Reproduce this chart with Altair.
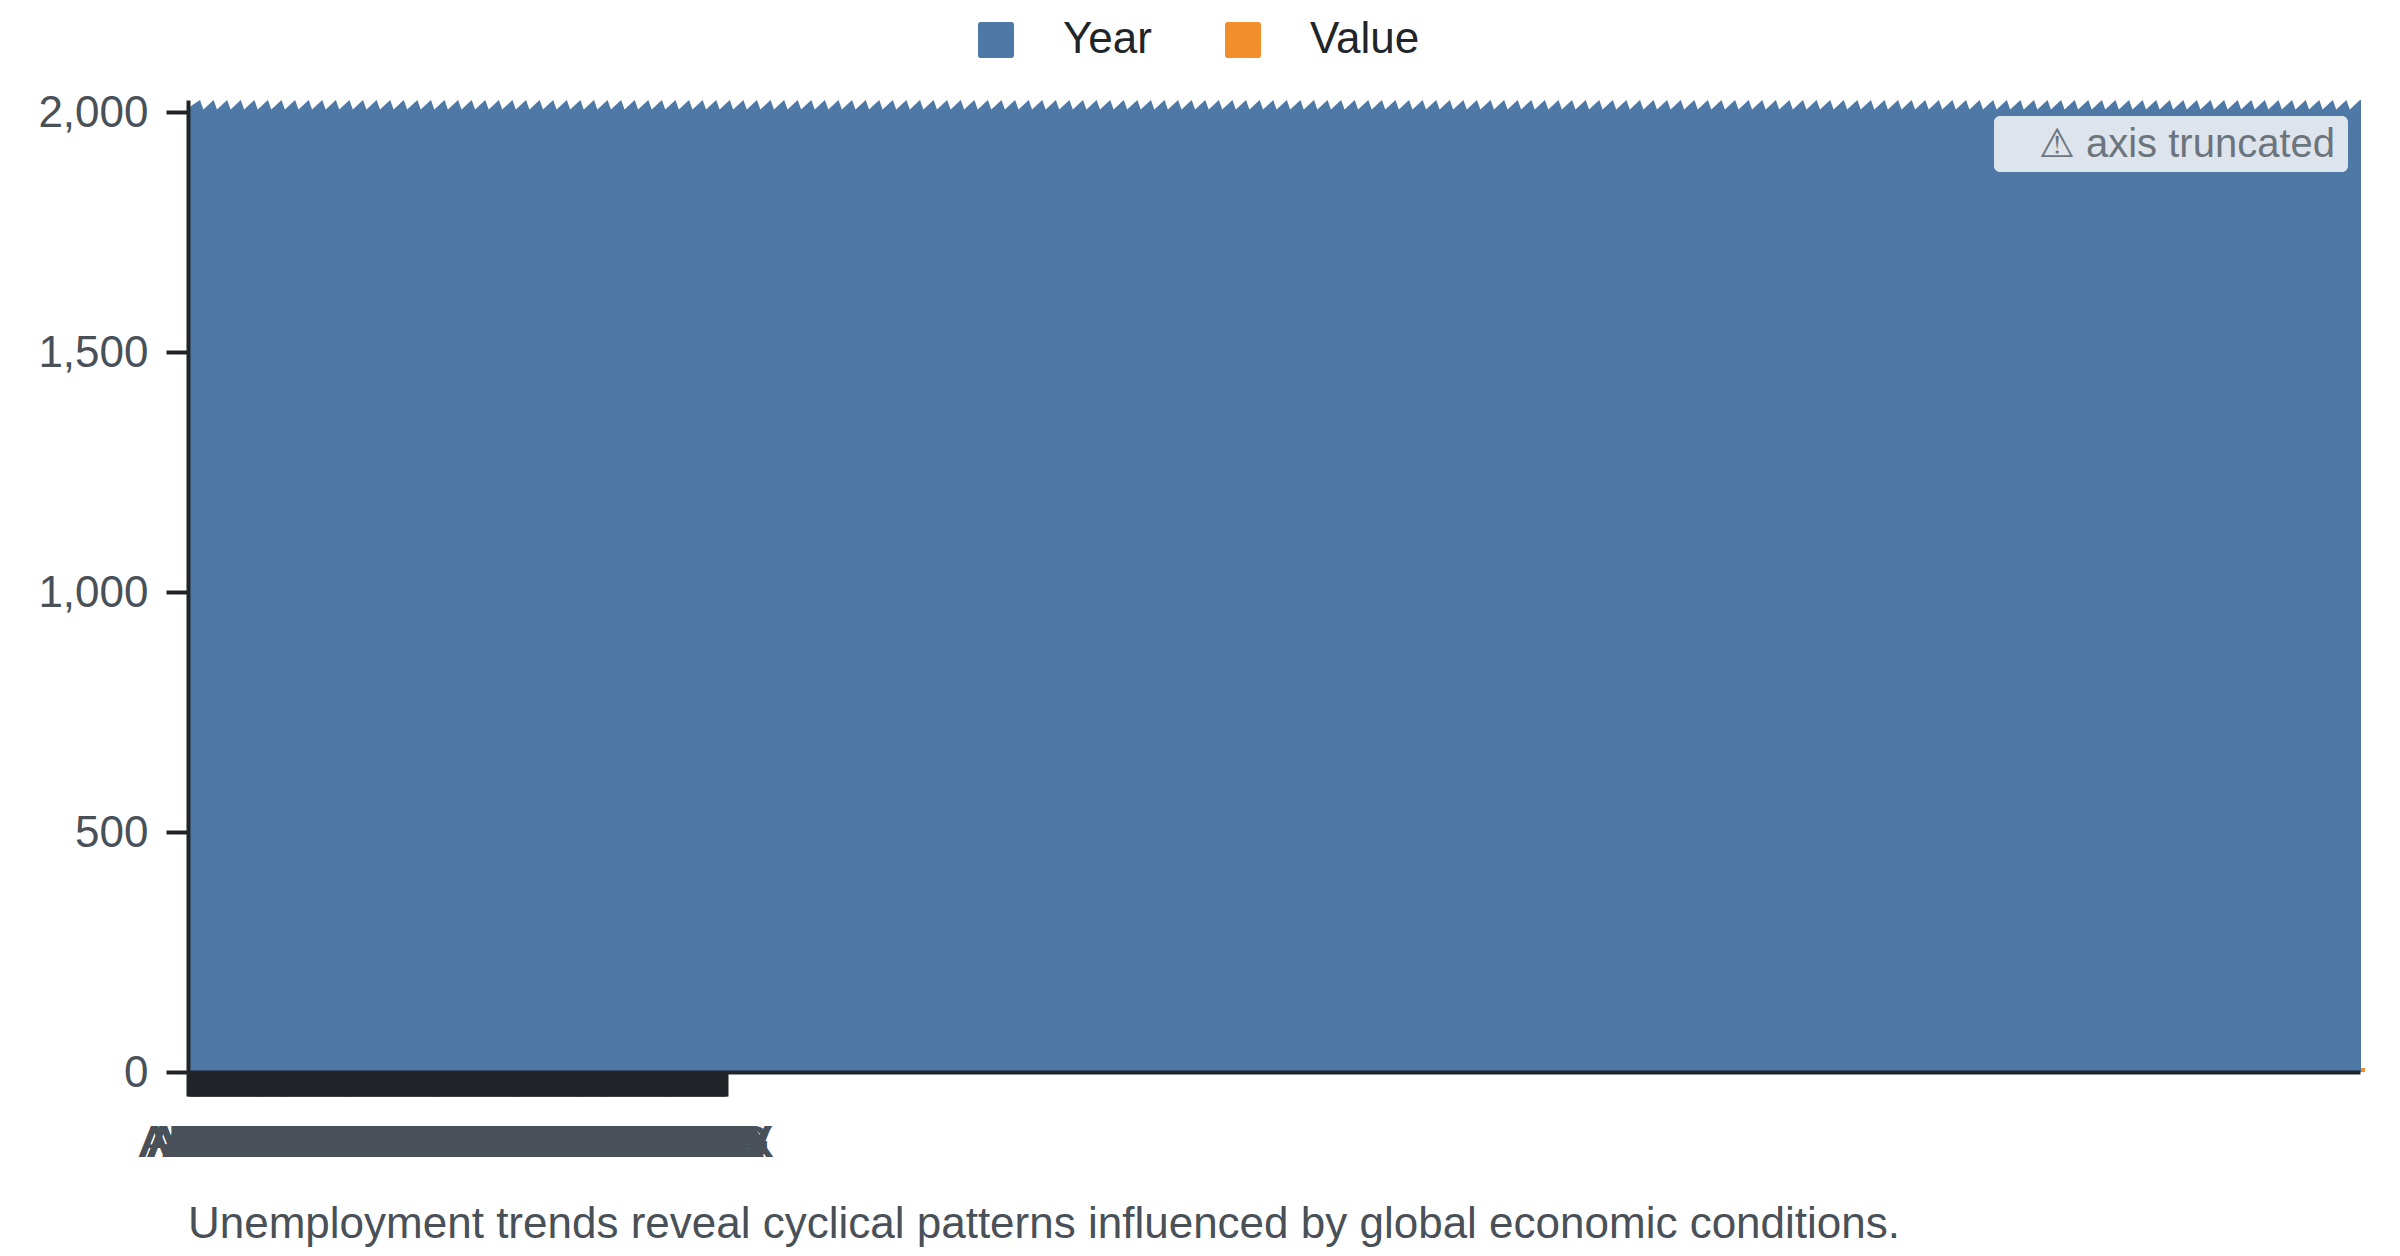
import altair as alt
import pandas as pd

# ---- data ----
country_codes = """ABW AFG AGO AIA ALA ALB AND ARE ARG ARM ASM ATA ATF ATG AUS AUT AZE BDI BEL BEN BES BFA BGD BGR BHR BHS BIH BLM BLR BLZ BMU BOL BRA BRB BRN BTN BVT BWA CAF CAN CCK CHE CHL CHN CIV CMR COD COG COK COL COM CPV CRI CUB CUW CXR CYM CYP CZE DEU DJI DMA DNK DOM DZA ECU EGY ERI ESH ESP EST ETH FIN FJI FLK FRA FRO FSM GAB GBR GEO GGY GHA GIB GIN GLP GMB GNB GRC GRD GRL GTM GUF GUM GUY HKG HMD HND HRV HTI HUN IDN IMN IND IOT IRL IRN ISL ISR ITA JAM JEY JOR JPN KAZ KEN KGZ KHM KIR KNA KOR KWT LAO LBN LBR LBY LCA LIE LKA LSO LTU LUX LVA MAC MAF MAR MCO MDA MDG MDV MEX""".split()
rows_per_code = 3
series_names = ["Year", "Value"]
series_values = [2025, 8.3]
series_colors = ["#4e79a7", "#f28e2b"]
y_ticks = [0, 500, 1000, 1500, 2000]
caption = "Unemployment trends reveal cyclical patterns influenced by global economic conditions."
badge_text = "⚠ axis truncated"

FONT = "Liberation Sans"
PLOT_W, PLOT_H = 2172, 972
row_codes = [c for c in country_codes for _ in range(rows_per_code)]
n = len(row_codes)
x_max = (n - 1) * PLOT_W / 538
y_max = 2025
tick_idx = list(range(n))
unit = x_max / PLOT_W
y_unit = y_max / PLOT_H

x_scale = alt.Scale(domain=[0, x_max], nice=False, zero=False)
y_scale = alt.Scale(domain=[0, y_max], nice=False)

bars = pd.DataFrame({
    "series": series_names,
    "value": series_values,
    "x0": [0, x_max + 1 * unit],
    "x1": [x_max + 1 * unit, x_max + 5 * unit],
})

label_expr = "[" + ",".join(f"'{c}'" for c in row_codes) + "][datum.value]"

bar_layer = alt.Chart(bars).mark_bar().encode(
    x=alt.X("x0:Q", scale=x_scale, title=None, axis=alt.Axis(
        values=tick_idx, tickCount=n + 1, labelExpr=label_expr, labelOverlap=False, labelFlush=False,
        labelBound=False, labelFont=FONT, labelFontSize=44, labelColor="#495057",
        labelPadding=25, labelAngle=0, grid=False, domainColor="#212529", domainWidth=4,
        tickColor="#212529", tickWidth=4, tickSize=24, zindex=1)),
    x2="x1:Q",
    y=alt.Y("value:Q", scale=y_scale, title=None, axis=alt.Axis(
        values=y_ticks, format=",.0f", labelFont=FONT, labelFontSize=44, labelColor="#495057",
        labelPadding=18, labelOffset=1, grid=False, domainColor="#212529", domainWidth=4,
        tickColor="#212529", tickWidth=4, tickSize=22, zindex=1)),
    y2=alt.datum(0),
    color=alt.Color("series:N", scale=alt.Scale(domain=series_names, range=series_colors),
                    title=None, legend=alt.Legend(
                        orient="none", legendX=786, legendY=-82, direction="horizontal",
                        symbolType="M-0.85,-1H0.85Q1,-1 1,-0.85V0.85Q1,1 0.85,1H-0.85Q-1,1 -1,0.85V-0.85Q-1,-1 -0.85,-1Z",
                        symbolSize=1296, symbolStrokeWidth=0, labelFont=FONT, labelFontSize=44,
                        labelColor="#212529", labelOffset=45, columnPadding=69, labelLimit=300)),
)

# break marks: a white saw edge cut out of the top of the bar
FIRST_PEAK, TOOTH_PX, FALL_PX, TOOTH_H = 12, (2172 - 12) / 159, 3.4, 9.5
teeth = [{"x": 0, "y": y_max - 0.85 * TOOTH_H * y_unit}]
k = 0
while k < 160:
    px = FIRST_PEAK + k * TOOTH_PX
    teeth.append({"x": px * unit, "y": y_max})
    teeth.append({"x": (px + FALL_PX) * unit, "y": y_max - TOOTH_H * y_unit})
    k += 1
teeth_df = pd.DataFrame(teeth)
teeth_df = teeth_df[teeth_df["x"] <= x_max + 2 * unit]
saw = alt.Chart(teeth_df).mark_area(color="white", interpolate="linear", clip=False).encode(
    x=alt.X("x:Q", scale=x_scale),
    y=alt.Y("y:Q", scale=y_scale),
    y2=alt.datum(y_max),
)

badge = alt.Chart(pd.DataFrame({"t": [badge_text]})).mark_rect(
    color="#dee4ec", cornerRadius=6).encode(
    x=alt.value(1806), x2=alt.value(2160), y=alt.value(16), y2=alt.value(72))
badge_label = alt.Chart(pd.DataFrame({"t": [badge_text]})).mark_text(
    font=FONT, fontSize=40, color="#6c757d", align="right", baseline="alphabetic").encode(
    x=alt.value(2147), y=alt.value(57), text="t:N")

chart = alt.layer(bar_layer, saw, badge, badge_label).resolve_scale(
    x="shared", y="shared"
).properties(
    width=PLOT_W, height=PLOT_H,
    autosize=alt.AutoSizeParams(type="none"),
    padding={"left": 180, "top": 92, "right": 24, "bottom": 182},
    title=alt.TitleParams(caption, orient="bottom", anchor="start", frame="group",
                          font=FONT, fontSize=44, fontWeight="normal", color="#495057", offset=38),
).configure_view(stroke=None).configure(background="white")

chart.save("out.html", embed_options={"renderer": "svg", "actions": False})
